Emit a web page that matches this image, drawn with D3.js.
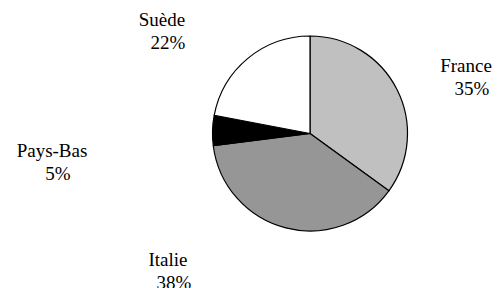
<!DOCTYPE html>
<html lang="fr">
	<head>
		<meta charset="UTF-8">
		<title>Pie</title>
		<script src="https://cdnjs.cloudflare.com/ajax/libs/d3/7.8.5/d3.min.js"></script>
		<style>
			body {margin: 0; background: #fff;}
			text {font-family: "Liberation Serif", "Times New Roman", serif; font-size: 19px; fill: #000;}
		</style>
		<script>
var countries = ["France", "Italie", "Pays-Bas", "Suède"];
var shares = [35, 38, 5, 22];
var fills = ["#c0c0c0", "#969696", "#000000", "#ffffff"];
// label block centre (name line), hand placed like the original
var labelPos = [[466, 72], [168, 266], [52, 157], [162, 26]];

function makePie() {
	var svg = d3.select("#pie").attr("width", 497).attr("height", 288);

	var cx = 310, cy = 133.5, R = 97.5;

	var pie = d3.pie().sort(null).value(function(d) {return d;});
	var arc = d3.arc().innerRadius(0).outerRadius(R);

	var g = svg.append("g").attr("transform", "translate(" + cx + "," + cy + ")");

	g.selectAll("path")
		.data(pie(shares))
		.enter().append("path")
		.attr("d", arc)
		.attr("fill", function(d, i) {return fills[i];})
		.attr("stroke", "#000").attr("stroke-width", 1.2)
		.attr("stroke-linejoin", "round");

	var lab = svg.selectAll("text.lab")
		.data(countries)
		.enter().append("text")
		.attr("class", "lab")
		.attr("text-anchor", "middle")
		.attr("x", function(d, i) {return labelPos[i][0];})
		.attr("y", function(d, i) {return labelPos[i][1];});

	lab.append("tspan").text(function(d) {return d;});
	lab.append("tspan")
		.attr("x", function(d, i) {return labelPos[i][0] + 6;})
		.attr("dy", 22.5)
		.text(function(d, i) {return shares[i] + "%";});
}
		</script>
	</head>
	<body onload="makePie()">
		<svg id="pie"></svg>
	</body>
</html>
